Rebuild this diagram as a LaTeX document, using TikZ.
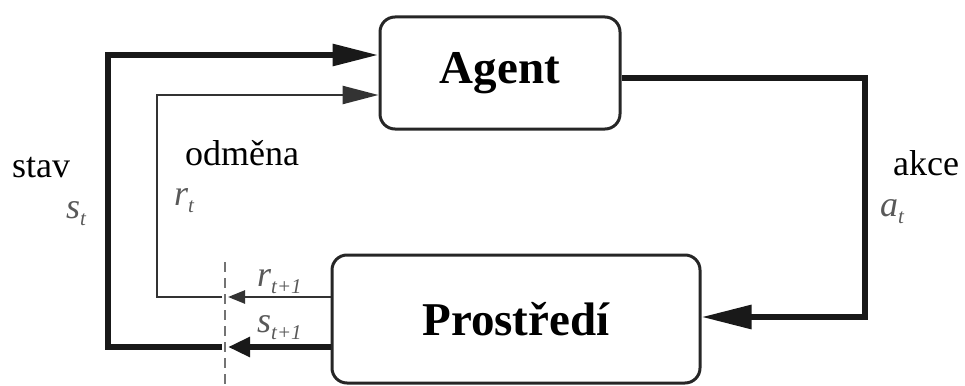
\documentclass[tikz,border=0pt]{standalone}
\usepackage{fontspec}
\setmainfont{Liberation Serif}
\usetikzlibrary{arrows.meta}
\begin{document}
\begin{tikzpicture}[x=1pt,y=-1pt,
  box/.style={draw=black!85, line width=3pt, rounded corners=15pt, inner sep=0pt,
    font=\fontsize{47}{50}\selectfont\bfseries},
  thickline/.style={line width=6pt, black!90},
  thinline/.style={line width=2.5pt, black!80},
  lbl/.style={font=\fontsize{36}{40}\selectfont, inner sep=0pt, anchor=base west},
  mlbl/.style={text=black!65, inner sep=0pt, anchor=base west}
]
\useasboundingbox (0,0) rectangle (965,385);
\node[box, minimum width=240pt, minimum height=112pt] (Agent) at (500,73) {Agent};
\node[box, minimum width=368pt, minimum height=128pt] (Env) at (516,319) {Prostředí};

% action
\coordinate (a1) at (865,78);
\coordinate (a2) at (865,317);
\draw[thickline, -{Triangle[length=50pt,width=23pt]}]
  (Agent.east |- a1) -- (a1) -- (a2) -- (Env.east |- a2);

% dashed separator
\coordinate (d1) at (225,262);
\coordinate (d2) at (225,385);
\draw[black!55, line width=2pt, dash pattern=on 10pt off 6pt] (d1) -- (d2);

% state
\coordinate (s0) at (228,347);
\coordinate (s3) at (222,347);
\coordinate (s1) at (108,347);
\coordinate (s2) at (108,55);
\draw[thickline, -{Triangle[length=22pt,width=19pt]}] (Env.west |- s0) -- (s0);
\draw[thickline, -{Triangle[length=46pt,width=21pt]}]
  (s3) -- (s1) -- (s2) -- (Agent.west |- s2);

% reward
\coordinate (r0) at (228,297);
\coordinate (r3) at (222,297);
\coordinate (r1) at (157,297);
\coordinate (r2) at (157,95);
\draw[thinline, -{Triangle[length=17pt,width=13pt]}] (Env.west |- r0) -- (r0);
\draw[thinline, -{Triangle[length=36pt,width=18pt]}]
  (r3) -- (r1) -- (r2) -- (Agent.west |- r2);

% labels
\node[lbl] (stav) at (12,177) {stav};
\node[lbl] (odm) at (185,165) {odměna};
\node[lbl] (akce) at (893,175) {akce};

\node[mlbl] (st) at (66,218)
  {\fontsize{36}{38}\selectfont\itshape s\raisebox{-7pt}{\fontsize{21}{22}\selectfont t}};
\node[mlbl] (rt) at (174,205)
  {\fontsize{36}{38}\selectfont\itshape r\raisebox{-7pt}{\fontsize{21}{22}\selectfont t}};
\node[mlbl] (at) at (880,216)
  {\fontsize{36}{38}\selectfont\itshape a\raisebox{-7pt}{\fontsize{21}{22}\selectfont t}};
\node[mlbl] (rt1) at (257,286)
  {\fontsize{36}{38}\selectfont\itshape r\raisebox{-7pt}{\fontsize{21}{22}\selectfont t+1}};
\node[mlbl] (st1) at (257,332)
  {\fontsize{36}{38}\selectfont\itshape s\raisebox{-7pt}{\fontsize{21}{22}\selectfont t+1}};
\end{tikzpicture}
\end{document}
